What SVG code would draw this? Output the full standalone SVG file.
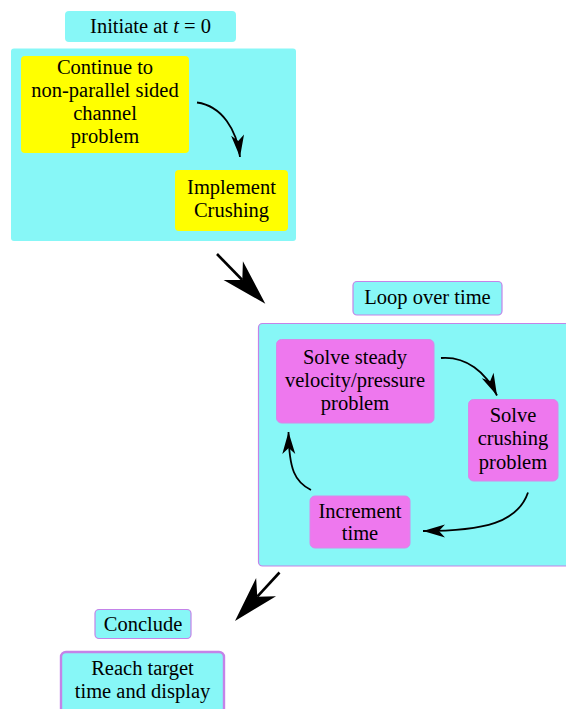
<svg xmlns="http://www.w3.org/2000/svg" width="566" height="709" viewBox="0 0 566 709">
<style>
text{font-family:"Liberation Serif","Times New Roman",serif;font-size:20.5px;fill:#000;text-anchor:middle}
.cy{fill:#87f7f7}
.cyb{fill:#87f7f7;stroke:#c483e8;stroke-width:1.2}
.yl{fill:#ffff00}
.mg{fill:#ee78ee;stroke:#d58ae8;stroke-width:1}
.ar{fill:none;stroke:#000;stroke-width:1.8}
.big{fill:none;stroke:#000;stroke-width:2.6}
</style>
<defs>
<marker id="st" markerUnits="userSpaceOnUse" orient="auto" refX="0" refY="0" markerWidth="40" markerHeight="40" overflow="visible">
<path d="M0,0 L-22,-6.5 L-16,0 L-22,6.5 Z" fill="#000"/>
</marker>
<marker id="bst" markerUnits="userSpaceOnUse" orient="auto" refX="0" refY="0" markerWidth="80" markerHeight="80" overflow="visible">
<path d="M33,0 L-13,-13.5 L0,0 L-13,13.5 Z" fill="#000"/>
</marker>
</defs>

<g id="initiate-label">
<rect class="cy" x="65" y="11" width="171" height="31" rx="4"/>
<text x="150.5" y="33">Initiate at <tspan font-style="italic">t</tspan> = 0</text>
</g>
<g id="initiate-box">
<rect class="cy" x="11" y="48.5" width="285" height="192.5" rx="3"/>
</g>
<g id="continue">
<rect class="yl" x="21" y="56" width="168" height="97" rx="4"/>
<text x="105" y="74">Continue to</text>
<text x="105" y="97">non-parallel sided</text>
<text x="105" y="120">channel</text>
<text x="105" y="143">problem</text>
</g>
<g id="crushing">
<rect class="yl" x="175" y="170" width="113" height="61" rx="4"/>
<text x="231.5" y="194">Implement</text>
<text x="231.5" y="217">Crushing</text>
</g>

<g id="loop-label">
<rect class="cyb" x="353" y="281.5" width="149" height="33.5" rx="4"/>
<text x="427.5" y="304">Loop over time</text>
</g>
<g id="loop-box">
<rect class="cyb" x="258.5" y="323.5" width="320" height="242.5" rx="4"/>
</g>
<g id="solve-steady">
<rect class="mg" x="276.5" y="339.5" width="157.5" height="83.5" rx="5"/>
<text x="355" y="363.5">Solve steady</text>
<text x="355" y="386.5">velocity/pressure</text>
<text x="355" y="409.5">problem</text>
</g>
<g id="solve-crushing">
<rect class="mg" x="468.5" y="399.5" width="89.5" height="81.5" rx="5"/>
<text x="513" y="421.5">Solve</text>
<text x="513" y="445">crushing</text>
<text x="513" y="468.5">problem</text>
</g>
<g id="increment">
<rect class="mg" x="310" y="496" width="100" height="52" rx="5"/>
<text x="360" y="517.5">Increment</text>
<text x="360" y="540">time</text>
</g>

<g id="conclude-label">
<rect class="cyb" x="95" y="609.5" width="96" height="29" rx="4"/>
<text x="143" y="631">Conclude</text>
</g>
<g id="reach">
<rect x="61" y="652" width="163" height="65" rx="5" fill="#87f7f7" stroke="#c483e8" stroke-width="2.4"/>
<text x="142.5" y="675">Reach target</text>
<text x="142.5" y="697.5">time and display</text>
</g>

<g id="connectors">
<path class="ar" d="M197,102.5 C222,106 237,130 240,157" marker-end="url(#st)"/>
<path class="big" d="M217,254 L242.3,280" marker-end="url(#bst)"/>
<path class="ar" d="M441,358 C466,356 486,372 497,395.5" marker-end="url(#st)"/>
<path class="ar" d="M528,492.5 C518,522 485,531 423,531" marker-end="url(#st)"/>
<path class="ar" d="M311,490 C295,482 289,470 288.5,432" marker-end="url(#st)"/>
<path class="big" d="M279.5,572.5 L257.3,596.7" marker-end="url(#bst)"/>
</g>
</svg>
